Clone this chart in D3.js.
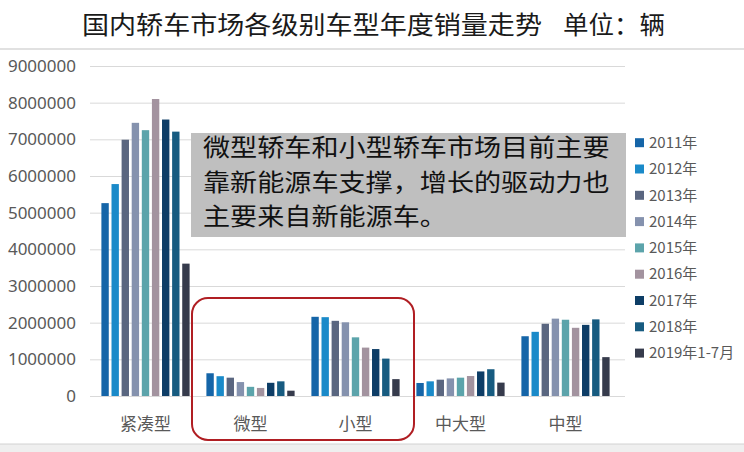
<!DOCTYPE html>
<html>
<head>
<meta charset="utf-8">
<script src="https://cdn.jsdelivr.net/npm/d3@7"></script>
<style>
  body { margin: 0; background: #fff; }
  svg { display: block; font-family: "Noto Sans CJK SC", "Noto Sans", sans-serif; }
</style>
</head>
<body>
<div id="chart"></div>
<script>
const categories = ['紧凑型', '微型', '小型', '中大型', '中型'];
const years = ['2011年', '2012年', '2013年', '2014年', '2015年', '2016年', '2017年', '2018年', '2019年1-7月'];
const colors = ['#1565a8', '#1a8ac9', '#5a6680', '#8592ae', '#5ca4ab', '#a3939f', '#0d3d66', '#175b80', '#363b4c'];

// sales per category, one value per year (same order as years)
const compact = [5260000, 5780000, 6990000, 7450000, 7250000, 8100000, 7540000, 7210000, 3610000];
const mini    = [620000, 540000, 500000, 380000, 250000, 220000, 360000, 400000, 145000];
const small   = [2160000, 2150000, 2050000, 2010000, 1600000, 1320000, 1280000, 1020000, 460000];
const large   = [355000, 400000, 445000, 480000, 500000, 545000, 670000, 730000, 365000];
const midsize = [1630000, 1750000, 1970000, 2110000, 2080000, 1860000, 1940000, 2090000, 1060000];
const series = [compact, mini, small, large, midsize];

const yTicks = d3.range(0, 9000001, 1000000);

const title = '国内轿车市场各级别车型年度销量走势';
const unit = '单位：辆';
const note = ['微型轿车和小型轿车市场目前主要', '靠新能源车支撑，增长的驱动力也', '主要来自新能源车。'];

const W = 744, H = 452;

const svg = d3.select('#chart').append('svg')
    .attr('width', W).attr('height', H);

// title + unit, rule under it
svg.append('text')
    .attr('x', 82).attr('y', 25).attr('dy', '0.35em')
    .attr('font-size', 25)
    .attr('textLength', 460).attr('lengthAdjust', 'spacingAndGlyphs')
    .attr('fill', '#1a1a1a')
    .text(title);
svg.append('text')
    .attr('x', 563).attr('y', 25).attr('dy', '0.35em')
    .attr('font-size', 25)
    .attr('textLength', 102).attr('lengthAdjust', 'spacingAndGlyphs')
    .attr('fill', '#1a1a1a')
    .text(unit);
svg.append('line')
    .attr('x1', 0).attr('x2', W).attr('y1', 49).attr('y2', 49)
    .attr('stroke', '#c4c4c4').attr('stroke-width', 1.2);

// bottom strip
svg.append('rect')
    .attr('x', 0).attr('y', 444).attr('width', W).attr('height', H - 444)
    .attr('fill', '#efefef');
svg.append('line')
    .attr('x1', 0).attr('x2', W).attr('y1', 444).attr('y2', 444)
    .attr('stroke', '#d2d2d2');

const y = d3.scaleLinear().domain([0, 9000000]).range([396, 66]);

const x0 = d3.scaleBand().domain(categories).range([93, 618])
    .paddingInner(0.16).paddingOuter(0.08);
const x1 = d3.scaleBand().domain(years).range([0, x0.bandwidth()])
    .paddingInner(0.27);
const color = d3.scaleOrdinal().domain(years).range(colors);

// gridlines + y labels
const yAxis = d3.axisLeft(y).tickValues(yTicks)
    .tickSize(-(625 - 90)).tickPadding(14).tickFormat(d3.format('d'));
const ga = svg.append('g')
    .attr('transform', 'translate(90,0)')
    .call(yAxis);
ga.select('.domain').remove();
ga.selectAll('.tick line').attr('stroke', '#d9d9d9');
ga.selectAll('.tick text')
    .attr('font-size', 17).attr('fill', '#595959')
    .attr('font-family', '"Noto Sans", sans-serif');

// bars
const groups = svg.append('g').selectAll('g')
    .data(categories)
  .enter().append('g')
    .attr('transform', c => `translate(${x0(c)},0)`);
groups.selectAll('rect')
    .data((c, i) => years.map((yr, j) => ({year: yr, value: series[i][j]})))
  .enter().append('rect')
    .attr('x', d => x1(d.year))
    .attr('width', x1.bandwidth())
    .attr('y', d => y(d.value))
    .attr('height', d => y(0) - y(d.value))
    .attr('fill', d => color(d.year));

// category labels
const xAxis = d3.axisBottom(x0).tickSize(0).tickPadding(22);
const gx = svg.append('g')
    .attr('transform', `translate(0,${y(0)})`)
    .call(xAxis);
gx.select('.domain').remove();
gx.selectAll('.tick text')
    .attr('font-size', 17).attr('fill', '#595959')
    .attr('font-family', '"Noto Sans CJK SC", sans-serif');

// highlight around 微型 / 小型
svg.append('rect')
    .attr('x', 192).attr('y', 298).attr('width', 222).attr('height', 142)
    .attr('rx', 16)
    .attr('fill', 'none').attr('stroke', '#b01e23').attr('stroke-width', 2);

// annotation box
svg.append('rect')
    .attr('x', 191).attr('y', 133).attr('width', 435).attr('height', 104)
    .attr('fill', '#bfbfbf');
svg.append('g').selectAll('text')
    .data(note)
  .enter().append('text')
    .attr('x', 203)
    .attr('y', (d, i) => 148 + i * 34.5)
    .attr('dy', '0.35em')
    .attr('font-size', 24)
    .attr('textLength', d => d.length * 27.1)
    .attr('lengthAdjust', 'spacingAndGlyphs')
    .attr('fill', '#111')
    .text(d => d);

// legend
const lg = svg.append('g').selectAll('g')
    .data(years)
  .enter().append('g')
    .attr('transform', (d, i) => `translate(635,${142.7 + i * 26.3})`);
lg.append('rect')
    .attr('x', 0).attr('y', -4.5).attr('width', 9).attr('height', 9)
    .attr('fill', d => color(d));
lg.append('text')
    .attr('x', 14).attr('dy', '0.35em')
    .attr('font-size', 15).attr('fill', '#595959')
    .text(d => d);
</script>
</body>
</html>
